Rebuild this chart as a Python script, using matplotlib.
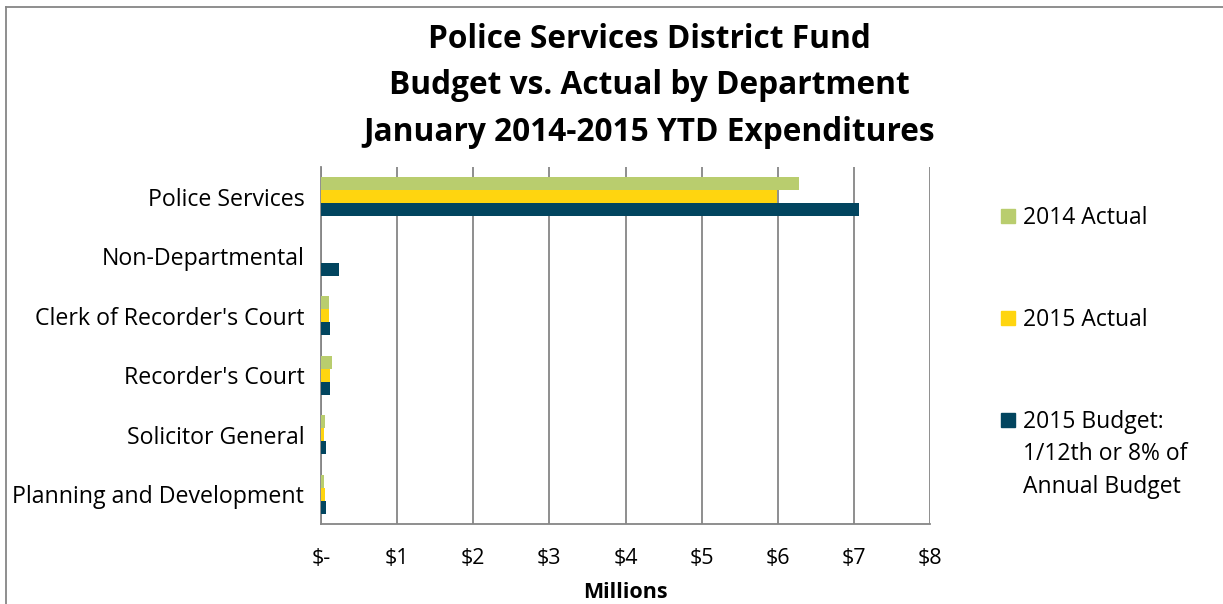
import matplotlib
matplotlib.use("Agg")
import matplotlib.pyplot as plt
from matplotlib.patches import Rectangle
from matplotlib.lines import Line2D
import numpy as np

categories = ["Police Services", "Non-Departmental", "Clerk of Recorder's Court",
              "Recorder's Court", "Solicitor General", "Planning and Development"]
actual_2014 = [6.28, 0.0, 0.10, 0.14, 0.05, 0.035]
actual_2015 = [5.99, 0.0, 0.10, 0.12, 0.035, 0.05]
budget_2015 = [7.07, 0.24, 0.12, 0.12, 0.06, 0.06]
series_labels = ["2014 Actual", "2015 Actual", "2015 Budget:\n1/12th or 8% of\nAnnual Budget"]
xticks = [0, 1, 2, 3, 4, 5, 6, 7, 8]
xticklabels = ["$-", "$1", "$2", "$3", "$4", "$5", "$6", "$7", "$8"]
title = "Police Services District Fund\nBudget vs. Actual by Department\nJanuary 2014-2015 YTD Expenditures"

colors = ["#B9CD6E", "#FFD50F", "#02455F"]
FONT = ["Open Sans", "DejaVu Sans"]
plt.rcParams['font.family'] = FONT

W, H = 1223, 604
fig = plt.figure(figsize=(W / 100, H / 100), dpi=100)
ax = fig.add_axes([321 / W, 1 - 524 / H, (930 - 321) / W, (524 - 167) / H])

n = len(categories)
y = np.arange(n)
bh = 0.22
for i, (vals, c) in enumerate(zip([actual_2014, actual_2015, budget_2015], colors)):
    ax.barh(y + (i - 1) * bh, vals, height=bh, color=c, edgecolor='none', zorder=3)

ax.set_ylim(n - 0.5, -0.5)
ax.set_xlim(0, 8)
ax.set_xticks(xticks)
ax.set_xticklabels(xticklabels, fontsize=15.5)
ax.set_yticks(y)
ax.set_yticklabels(categories, fontsize=16.7)
ax.tick_params(axis='both', length=0)
ax.tick_params(axis='x', pad=17)
ax.tick_params(axis='y', pad=12)
ax.grid(axis='x', color='#868686', linewidth=1.3, zorder=0)
for s in ['top', 'right']:
    ax.spines[s].set_visible(False)
for s in ['left', 'bottom']:
    ax.spines[s].set_color('#868686')
    ax.spines[s].set_linewidth(1.3)
ax.set_xlabel("Millions", fontsize=15.5, fontweight='bold', labelpad=10)

fig.text(649 / W, 1 - 86 / H, title, ha='center', va='center', fontsize=22.8,
         fontweight='bold', linespacing=1.55)

# legend
leg_y = [216, 318, 420]
for lab, c, yy in zip(series_labels, colors, leg_y):
    fig.add_artist(Rectangle((1001 / W, 1 - (yy + 7) / H), 14 / W, 14 / H,
                             color=c, transform=fig.transFigure))
    fig.text(1023 / W, 1 - (yy - 10) / H, lab, ha='left', va='top', fontsize=16.5,
             linespacing=1.47)

# outer frame
fig.add_artist(Line2D([5.5 / W, 5.5 / W], [0, 1 - 7 / H], color='#868686', lw=1.3,
                      transform=fig.transFigure))
fig.add_artist(Line2D([5.5 / W, 1], [1 - 7 / H, 1 - 7 / H], color='#868686', lw=1.3,
                      transform=fig.transFigure))

fig.savefig("out.png", dpi=100)
